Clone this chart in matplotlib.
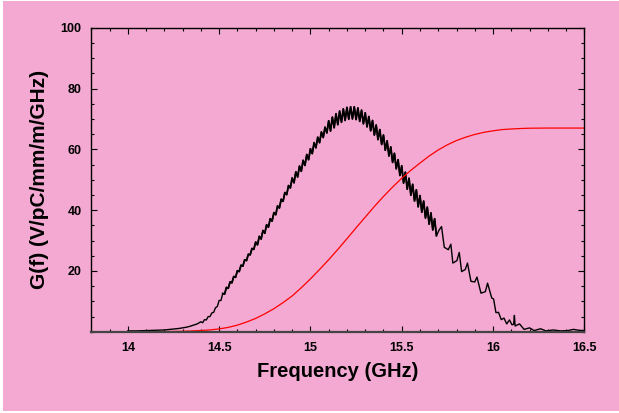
import numpy as np
import matplotlib
matplotlib.use('Agg')
import matplotlib.pyplot as plt
from matplotlib.ticker import MultipleLocator
from matplotlib.patches import Rectangle

plt.rcParams['font.family'] = ['Liberation Sans', 'DejaVu Sans']

PINK = '#F3A9D1'

# G(f) spectrum (head / rippled middle / tail)
f_head = [14.00, 14.05, 14.10, 14.15, 14.20, 14.25, 14.28, 14.30, 14.32, 14.34, 14.36, 14.38]
g_head = [0.3, 0.3, 0.4, 0.5, 0.6, 0.9, 1.1, 1.3, 1.5, 1.8, 2.2, 2.6]

# middle part sampled every 0.01 GHz from 14.40 to 15.69
f_mid = np.round(np.arange(14.40, 15.695, 0.01), 2)
g_mid = [
    3.3, 3.0, 4.0, 3.9, 5.0, 5.0, 6.2, 6.4, 7.9, 8.3,
    10.3, 10.3, 12.6, 12.4, 14.6, 14.3, 16.4, 16.1, 18.2, 17.9,
    20.1, 19.8, 21.9, 21.6, 23.7, 23.4, 25.5, 25.3, 27.4, 27.1,
    29.5, 28.6, 31.4, 30.5, 33.3, 32.4, 35.2, 34.4, 37.2, 36.4,
    39.2, 38.5, 41.4, 40.7, 43.6, 42.9, 45.8, 45.1, 48.1, 47.3,
    50.6, 49.0, 52.6, 50.9, 54.5, 52.8, 56.4, 54.7, 58.3, 56.6,
    60.2, 58.6, 62.2, 60.5, 64.0, 62.2, 65.7, 63.9, 67.3, 65.4,
    69.4, 66.0, 70.6, 67.1, 71.7, 68.1, 72.6, 68.9, 73.3, 69.5,
    73.8, 69.9, 74.0, 70.0, 74.0, 69.8, 73.6, 69.2, 72.9, 68.4,
    72.0, 67.4, 70.8, 66.1, 69.5, 64.7, 68.0, 63.2, 66.5, 61.6,
    64.7, 59.7, 62.8, 57.8, 60.8, 55.7, 58.7, 53.6, 56.6, 51.4,
    54.6, 48.9, 52.5, 46.9, 50.5, 44.9, 48.5, 43.0, 46.7, 41.1,
    44.8, 39.3, 43.0, 37.4, 41.0, 35.4, 39.1, 33.5, 37.2, 31.6,
]

f_tail = [15.705, 15.718, 15.733, 15.755, 15.769, 15.780, 15.802, 15.815, 15.828, 15.848,
          15.860, 15.879, 15.900, 15.912, 15.934, 15.958, 15.970, 15.993, 16.003, 16.016,
          16.030, 16.045, 16.060, 16.075, 16.090, 16.104, 16.113, 16.117, 16.121, 16.145,
          16.170, 16.200, 16.225, 16.260, 16.290, 16.330, 16.370, 16.410, 16.440, 16.470,
          16.500]
g_tail = [33.5, 34.6, 27.8, 27.0, 28.8, 22.6, 23.4, 26.1, 19.8, 20.5,
          22.6, 16.6, 16.4, 18.0, 12.7, 13.2, 16.0, 11.1, 10.8, 6.3,
          6.4, 4.0, 4.5, 2.6, 3.9, 2.3, 2.5, 5.4, 1.9, 2.6,
          0.8, 1.3, 0.4, 1.0, 0.3, 0.6, 0.3, 0.4, 0.8, 0.5,
          0.4]

freq = np.concatenate([f_head, f_mid, f_tail])
g_f = np.concatenate([g_head, g_mid, g_tail])

# cumulative (red) curve
f_cum = [14.00, 14.10, 14.20, 14.30, 14.35, 14.40, 14.45, 14.50, 14.55, 14.60,
         14.65, 14.70, 14.75, 14.80, 14.85, 14.90, 14.95, 15.00, 15.05, 15.10,
         15.15, 15.20, 15.25, 15.30, 15.35, 15.40, 15.45, 15.50, 15.55, 15.60,
         15.65, 15.70, 15.75, 15.80, 15.85, 15.90, 15.95, 16.00, 16.05, 16.10,
         16.15, 16.20, 16.30, 16.50]
g_cum = [0.0, 0.03, 0.08, 0.18, 0.28, 0.42, 0.62, 0.95, 1.45, 2.2,
         3.2, 4.4, 5.9, 7.6, 9.6, 11.8, 14.5, 17.4, 20.5, 23.7,
         27.1, 30.6, 34.2, 37.7, 41.2, 44.5, 47.6, 50.5, 53.1, 55.5,
         57.8, 59.8, 61.5, 62.9, 64.0, 64.9, 65.6, 66.1, 66.5, 66.7,
         66.85, 66.95, 67.0, 67.0]

fig = plt.figure(figsize=(6.19, 4.13), dpi=100, facecolor='white')
fig.patches.append(Rectangle((3 / 619, 0.004), 1, 0.993, transform=fig.transFigure,
                             facecolor=PINK, edgecolor='none', zorder=-10))

ax = fig.add_axes([0.1475, 0.1966, 0.7965, 0.7363])
ax.set_zorder(1)
ax.set_facecolor(PINK)

ax.plot(freq, g_f, color='black', lw=1.0)
# the densely rippled middle reads as a thicker band in the original
ax.plot(f_mid[12:], g_mid[12:], color='black', lw=1.3)
ax.plot(f_cum, g_cum, color='#FF0000', lw=0.9)

ax.set_xlim(13.8, 16.5)
ax.set_ylim(0, 100)
ax.set_xticks([14, 14.5, 15, 15.5, 16, 16.5])
ax.set_xticklabels(['14', '14.5', '15', '15.5', '16', '16.5'])
ax.set_yticks([20, 40, 60, 80, 100])
ax.xaxis.set_minor_locator(MultipleLocator(0.1))
ax.yaxis.set_minor_locator(MultipleLocator(5))

ax.tick_params(which='both', direction='in', top=True, right=True, width=0.8, color='black')
ax.tick_params(which='major', length=4)
ax.tick_params(which='minor', length=2.5)
ax.tick_params(axis='x', pad=7, labelsize=9)
ax.tick_params(axis='y', pad=7, labelsize=9)
for lab in ax.get_xticklabels() + ax.get_yticklabels():
    lab.set_fontweight('bold')

for s in ax.spines.values():
    s.set_linewidth(1.0)
    s.set_color('black')
ax.spines['bottom'].set_color('#444444')
ax.spines['bottom'].set_linewidth(1.6)

ax.set_xlabel('Frequency (GHz)', fontsize=14.5, fontweight='bold', labelpad=6)
ax.set_ylabel('G(f) (V/pC/mm/m/GHz)', fontsize=15, fontweight='bold', labelpad=8)

fig.savefig('out.png', dpi=100, facecolor=fig.get_facecolor())
